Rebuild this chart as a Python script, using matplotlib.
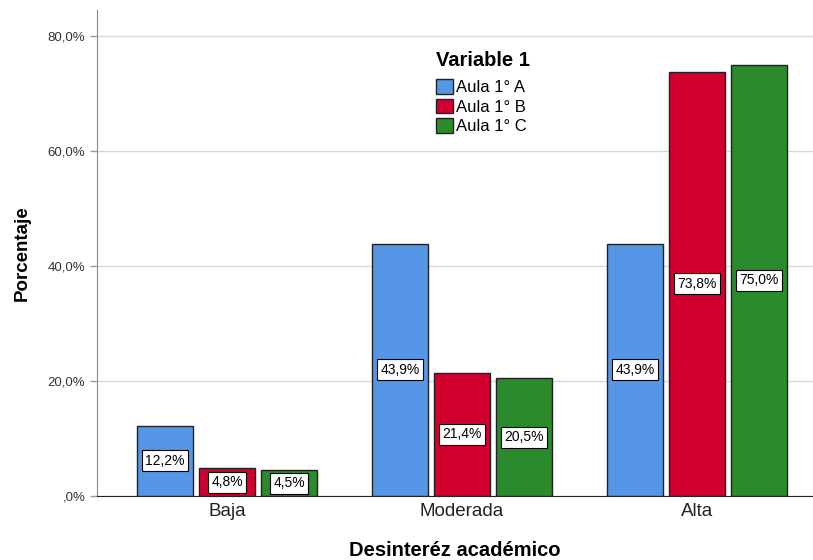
import matplotlib
matplotlib.use("Agg")
import matplotlib.pyplot as plt
import numpy as np

plt.rcParams['font.family'] = ['Liberation Sans', 'DejaVu Sans']

categories = ["Baja", "Moderada", "Alta"]
series_names = ["Aula 1° A", "Aula 1° B", "Aula 1° C"]
aula_a = [12.2, 43.9, 43.9]
aula_b = [4.8, 21.4, 73.8]
aula_c = [4.5, 20.5, 75.0]
colors = ["#5596e6", "#d2002f", "#2a8a2c"]
yticks = [0, 20, 40, 60, 80]
ytick_labels = [",0%", "20,0%", "40,0%", "60,0%", "80,0%"]
legend_title = "Variable 1"

fig = plt.figure(figsize=(8.13, 5.6), dpi=100)
ax = fig.add_axes([97/813, 1-496/560, 1-97/813, (496-10)/560])

x = np.arange(len(categories))
width = 56/235
step = 62/235
for i, (vals, name, col) in enumerate(zip([aula_a, aula_b, aula_c], series_names, colors)):
    pos = x + (i-1)*step
    ax.bar(pos, vals, width, color=col, edgecolor="#222222", linewidth=1.0, label=name, zorder=3)
    for p, v in zip(pos, vals):
        ax.text(p, v/2, f"{v:.1f}%".replace(".", ","), ha="center", va="center", fontsize=10,
                zorder=4, bbox=dict(boxstyle="square,pad=0.25", facecolor="white", edgecolor="black", linewidth=0.8))

ax.set_xlim(-0.553, 2.494)
ax.set_ylim(0, 84.5)
ax.set_yticks(yticks)
ax.set_yticklabels(ytick_labels, fontsize=9.5, color="#333333")
ax.set_xticks(x)
ax.set_xticklabels(categories, fontsize=13.5, color="#222222")
ax.tick_params(axis='x', length=0, pad=5)
ax.tick_params(axis='y', length=5, color="#999999", width=1)
ax.grid(axis='y', color="#d9d9d9", linewidth=1, zorder=0)
for s in ["top", "right"]:
    ax.spines[s].set_visible(False)
ax.spines["left"].set_color("#888888")
ax.spines["bottom"].set_color("#222222")

ax.set_ylabel("Porcentaje", fontsize=13.5, fontweight="bold", labelpad=12)
ax.set_xlabel("Desinteréz académico", fontsize=14.5, fontweight="bold", labelpad=15)

fig.text(436/813, 1-60/560, legend_title, fontsize=14.5, fontweight="bold", ha="left", va="center")
leg = fig.legend(*ax.get_legend_handles_labels(), loc="upper left",
                 bbox_to_anchor=(428/813, 1-71/560), frameon=False, borderpad=0,
                 fontsize=12, handlelength=1.0, handleheight=1.0, handletextpad=0.2, labelspacing=0.18)

fig.savefig("out.png", dpi=100)
